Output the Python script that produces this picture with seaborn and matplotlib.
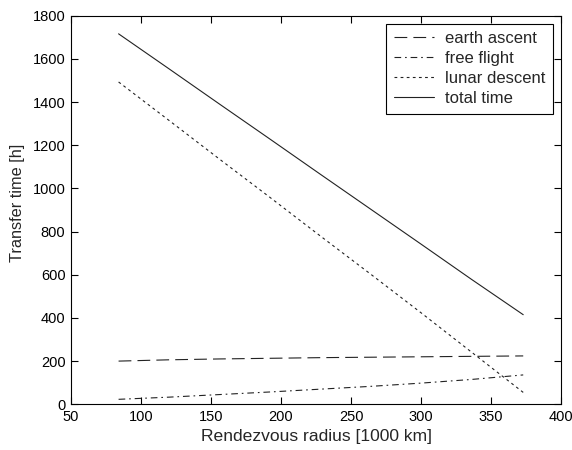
import numpy as np
import pandas as pd
import matplotlib
matplotlib.use("Agg")
import matplotlib.pyplot as plt
import seaborn as sns

# Data
radius = [84, 120, 156, 192, 228, 264, 300, 336, 373]
earth_ascent = [200, 206, 210, 213, 216, 218, 220, 222, 224]
free_flight = [23, 33, 45, 57, 70, 83, 98, 115, 136]
lunar_descent = [1493, 1315, 1136, 959, 780, 603, 424, 242, 55]
total_time = [1716, 1554, 1391, 1229, 1066, 904, 742, 579, 415]

series_names = ["earth ascent", "free flight", "lunar descent", "total time"]
series_values = [earth_ascent, free_flight, lunar_descent, total_time]

x_ticks = [50, 100, 150, 200, 250, 300, 350, 400]
y_ticks = [0, 200, 400, 600, 800, 1000, 1200, 1400, 1600, 1800]

frames = []
for name, vals in zip(series_names, series_values):
    frames.append(pd.DataFrame({"radius": radius, "time": vals, "series": name}))
df = pd.concat(frames, ignore_index=True)

sns.set_style("ticks")
plt.rcParams["font.family"] = ["Liberation Sans", "DejaVu Sans"]
plt.rcParams["xtick.direction"] = "in"
plt.rcParams["ytick.direction"] = "in"

fig = plt.figure(figsize=(5.72, 4.5), dpi=100)
ax = fig.add_axes([0.1241, 0.1016, 0.8567, 0.8635])

lw = 0.8
dashes = {
    "earth ascent": (11.5, 5.5),
    "free flight": (6.0, 3.5, 1.5, 3.5),
    "lunar descent": (2.5, 3.0),
    "total time": "",
}
sns.lineplot(data=df, x="radius", y="time", hue="series", style="series",
             palette=["#222222"] * 4, dashes=dashes, linewidth=lw,
             hue_order=series_names, style_order=series_names,
             ax=ax, legend=True)

ax.set_xlim(50, 400)
ax.set_ylim(0, 1800)
ax.set_xticks(x_ticks)
ax.set_yticks(y_ticks)
ax.tick_params(axis="both", which="both", direction="in", length=5, width=0.8,
               labelsize=10.5, top=True, right=True, colors="black", pad=4)
for s in ax.spines.values():
    s.set_visible(True)
    s.set_linewidth(0.8)
    s.set_color("black")

ax.set_xlabel("Rendezvous radius [1000 km]", fontsize=12.6, labelpad=4)
ax.set_ylabel("Transfer time [h]", fontsize=11.7)
ax.yaxis.set_label_coords(-0.093, 0.518)

leg = ax.legend(loc="upper right", fontsize=12, frameon=True, fancybox=False,
                edgecolor="black", framealpha=1, handlelength=2.4,
                borderaxespad=0.47, borderpad=0.45, labelspacing=0.3,
                handletextpad=0.7)
leg.get_frame().set_linewidth(0.8)
for h in leg.get_lines():
    h.set_linewidth(lw)

fig.savefig("out.png", dpi=100)
